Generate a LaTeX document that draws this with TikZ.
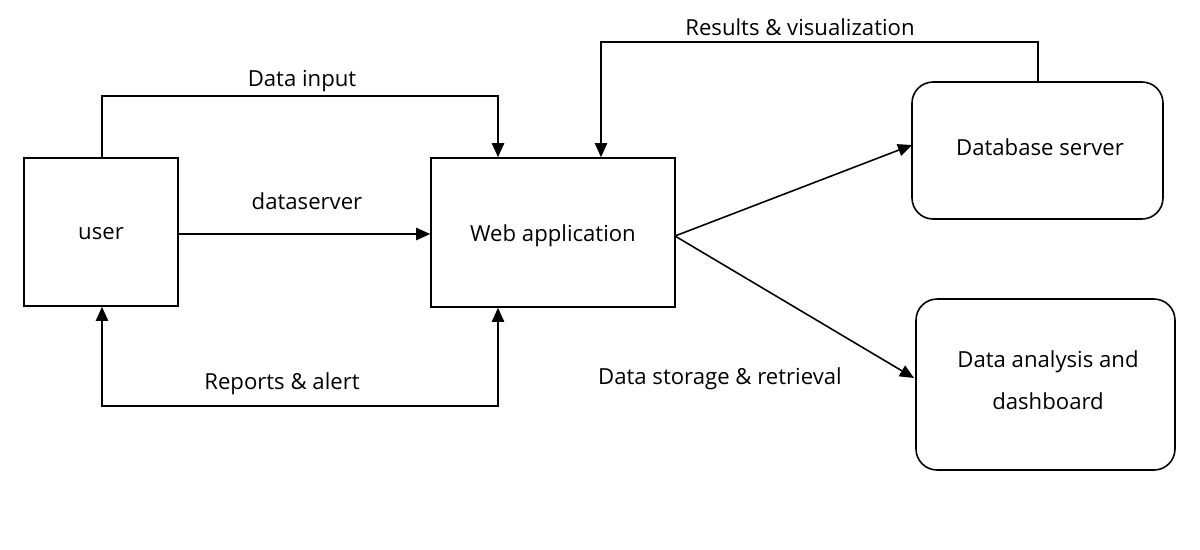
\documentclass[tikz,border=0pt]{standalone}
\usepackage{fontspec}
\setmainfont{Open Sans}
\usetikzlibrary{arrows.meta}
\begin{document}
\begin{tikzpicture}[x=0.02cm,y=-0.02cm,
  box/.style={draw,line width=0.9pt,inner sep=0pt},
  rbox/.style={box,rounded corners=12pt},
  arr/.style={line width=0.9pt,-{Triangle[length=8pt,width=7pt]}},
  lbl/.style={font=\fontsize{12.6pt}{24pt}\selectfont,align=center}]
\useasboundingbox (0,0) rectangle (1200,549);
\node[box,minimum width=154*0.02cm,minimum height=148*0.02cm] (user) at (101,232) {};
\node[lbl] at (101,234) {user};
\node[box,minimum width=244*0.02cm,minimum height=149*0.02cm] (web) at (553,232.5) {};
\node[lbl] at (553,236) {Web application};
\node[rbox,minimum width=251*0.02cm,minimum height=137*0.02cm] (db) at (1037.5,150.5) {};
\node[lbl] at (1040,147) {Database server};
\node[rbox,minimum width=259*0.02cm,minimum height=171*0.02cm] (da) at (1045.5,384.5) {};
\node[lbl] at (1048,380) {Data analysis and\\dashboard};
\coordinate (a1) at (102,96); \coordinate (a2) at (498,96);
\draw[arr] (user.north -| a1) -- (a1) -- (a2) -- (web.north -| a2);
\node[lbl] at (302,81) {Data input};
\draw[arr] (user.east |- 0,234) -- (web.west |- 0,234);
\node[lbl] at (307,201) {dataserver};
\coordinate (b1) at (498,406); \coordinate (b2) at (102,406);
\draw[arr,{Triangle[length=8pt,width=7pt]}-{Triangle[length=8pt,width=7pt]}] (web.south -| b1) -- (b1) -- (b2) -- (user.south -| b2);
\node[lbl] at (282,384) {Reports \& alert};
\coordinate (c1) at (1038,42); \coordinate (c2) at (601,42);
\draw[arr] (db.north -| c1) -- (c1) -- (c2) -- (web.north -| c2);
\node[lbl] at (800,27) {Results \& visualization};
\coordinate (w) at (675,236);
\draw[arr] (w) -- (912,145);
\draw[arr] (w) -- (914,378);
\node[lbl] at (720,379) {Data storage \& retrieval};
\end{tikzpicture}
\end{document}
